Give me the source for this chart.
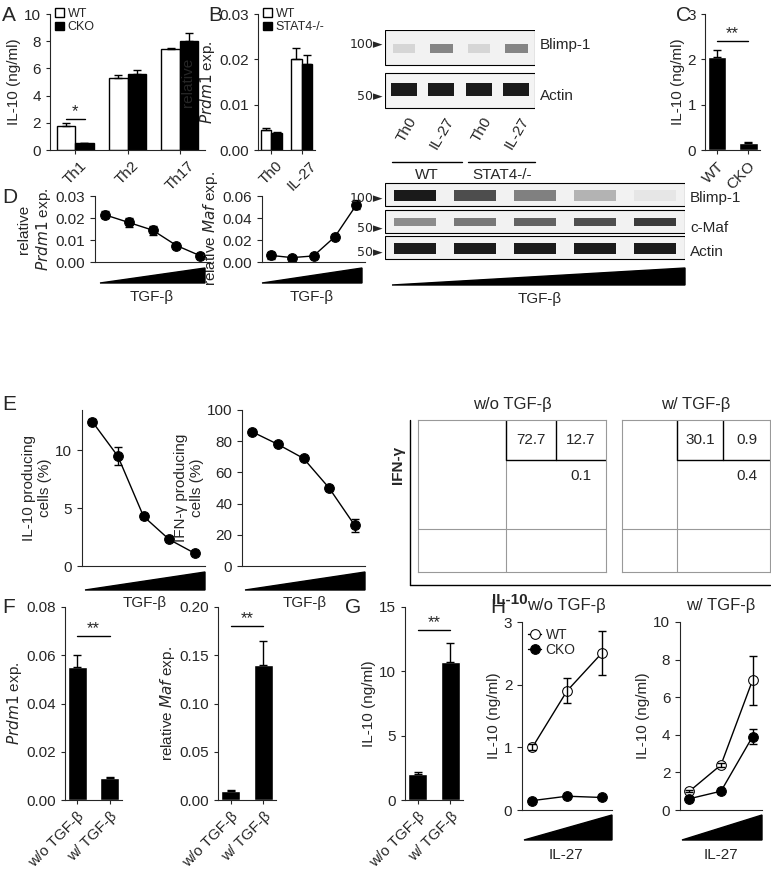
import numpy as np, pandas as pd, seaborn as sns, matplotlib
matplotlib.use("Agg")
import matplotlib.pyplot as plt
from matplotlib.patches import Rectangle, Polygon

sns.set_style("ticks")
plt.rcParams.update({"font.family": "Liberation Sans", "font.size": 11})
W, H = 771, 884
fig = plt.figure(figsize=(W/100, H/100), dpi=100)

def ax_px(x0, y0, x1, y1):
    return fig.add_axes([x0/W, 1-y1/H, (x1-x0)/W, (y1-y0)/H])

# ---- data ----
a_cells = ["Th1", "Th2", "Th17"]
a_wt = [1.8, 5.3, 7.4]; a_cko = [0.5, 5.6, 8.0]
a_wt_err = [0.2, 0.2, 0.1]; a_cko_err = [0.05, 0.3, 0.6]
b_cond = ["Th0", "IL-27"]
b_wt = [0.0045, 0.020]; b_stat = [0.0037, 0.019]
b_wt_err = [0.0004, 0.0025]; b_stat_err = [0.0003, 0.002]
c_grp = ["WT", "CKO"]; c_val = [2.05, 0.15]; c_err = [0.15, 0.03]
d_prdm1 = [0.0215, 0.018, 0.0145, 0.0075, 0.0028]; d_prdm1_err = [0.0015, 0.002, 0.002, 0.0006, 0.0002]
d_maf = [0.006, 0.004, 0.0055, 0.023, 0.052]; d_maf_err = [0.003, 0.0005, 0.001, 0.001, 0.004]
e_il10 = [12.5, 9.5, 4.3, 2.3, 1.1]; e_il10_err = [0.2, 0.8, 0.2, 0.1, 0.1]
e_ifng = [86, 78, 69, 50, 26]; e_ifng_err = [1, 1, 1, 1, 4]
flow_labels = ["w/o TGF-β", "w/ TGF-β"]
flow_q = [("72.7", "12.7", "0.1"), ("30.1", "0.9", "0.4")]
f_grp = ["w/o TGF-β", "w/ TGF-β"]
f_prdm1 = [0.055, 0.009]; f_prdm1_err = [0.005, 0.0005]
f_maf = [0.009, 0.14]; f_maf_err = [0.001, 0.025]
g_val = [2.0, 10.7]; g_err = [0.2, 1.5]
h_wo_wt = [1.0, 1.9, 2.5]; h_wo_cko = [0.15, 0.22, 0.2]
h_wo_wt_err = [0.05, 0.2, 0.35]; h_wo_cko_err = [0.02, 0.02, 0.02]
h_w_wt = [1.0, 2.4, 6.9]; h_w_cko = [0.6, 1.0, 3.9]
h_w_wt_err = [0.05, 0.1, 1.3]; h_w_cko_err = [0.05, 0.05, 0.4]

def style(ax):
    sns.despine(ax=ax)
    ax.tick_params(labelsize=11, length=3)

def grouped(ax, cats, v1, v2, e1, e2, n1, n2, ylim, yticks, fmt):
    df = pd.DataFrame({"c": cats*2, "v": v1+v2, "g": [n1]*len(cats)+[n2]*len(cats)})
    sns.barplot(data=df, x="c", y="v", hue="g", palette=["white", "black"], edgecolor="black",
                linewidth=1, errorbar=None, ax=ax, width=0.7)
    for p, v, e in zip(ax.patches, v1+v2, e1+e2):
        ax.errorbar(p.get_x()+p.get_width()/2, v, yerr=[[0], [e]], color="black", capsize=3, lw=1)
    ax.set_ylim(*ylim); ax.set_yticks(yticks); ax.set_yticklabels([fmt.format(t) for t in yticks])
    ax.set_xlabel("")
    ax.legend(loc="upper left", bbox_to_anchor=(0.0, 1.08), frameon=False, fontsize=9,
              handlelength=0.7, labelspacing=0.1, borderaxespad=0, handletextpad=0.3)
    style(ax)

def single(ax, cats, v, e, ylim, yticks, fmt, rot=0):
    df = pd.DataFrame({"c": cats, "v": v})
    sns.barplot(data=df, x="c", y="v", color="black", errorbar=None, ax=ax, width=0.6)
    for p, vv, ee in zip(ax.patches, v, e):
        ax.errorbar(p.get_x()+p.get_width()/2, vv, yerr=[[0], [ee]], color="black", capsize=3, lw=1)
    ax.set_ylim(*ylim); ax.set_yticks(yticks); ax.set_yticklabels([fmt.format(t) for t in yticks])
    ax.set_xlabel("")
    ax.tick_params(axis="x", rotation=rot)
    for t in ax.get_xticklabels():
        t.set_ha("right"); t.set_rotation_mode("anchor")
    style(ax)

def sig(ax, x0, x1, y, txt):
    ax.plot([x0, x1], [y, y], color="black", lw=1)
    ax.text((x0+x1)/2, y, txt, ha="center", va="bottom", fontsize=12)

def tri(fx0, fy0, fx1, fy1):
    fig.patches.append(Polygon([(fx0/W, 1-fy1/H), (fx1/W, 1-fy0/H), (fx1/W, 1-fy1/H)],
                               closed=True, color="black", transform=fig.transFigure))

def line(ax, vals, errs, ylim, yticks, fmt, mfc="black", label=None):
    df = pd.DataFrame({"x": range(len(vals)), "y": vals})
    sns.lineplot(data=df, x="x", y="y", marker="o", color="black", markerfacecolor=mfc,
                 markeredgecolor="black", markersize=7, ax=ax, label=label, lw=1)
    ax.errorbar(range(len(vals)), vals, yerr=errs, fmt="none", ecolor="black", capsize=3, lw=1)
    ax.set_ylim(*ylim); ax.set_yticks(yticks); ax.set_yticklabels([fmt.format(t) for t in yticks])
    ax.set_xticks([]); ax.set_xlabel(""); ax.set_xlim(-0.4, len(vals)-0.6)
    sns.despine(ax=ax); ax.tick_params(labelsize=11)

def letter(x, y, s):
    fig.text(x/W, 1-y/H, s, fontsize=15, va="top", ha="left")

def marker_txt(x, y, s):
    fig.text(x/W, 1-y/H, s + "►", va="center", ha="right", fontsize=9, family="DejaVu Sans")

# A
ax = ax_px(50, 14, 205, 150)
grouped(ax, a_cells, a_wt, a_cko, a_wt_err, a_cko_err, "WT", "CKO", (0, 10), [0, 2, 4, 6, 8, 10], "{:g}")
ax.set_ylabel("IL-10 (ng/ml)", labelpad=2)
ax.tick_params(axis="x", rotation=45)
sig(ax, -0.18, 0.18, 2.3, "*")
letter(2, 6, "A")
# B
ax = ax_px(258, 14, 315, 150)
grouped(ax, b_cond, b_wt, b_stat, b_wt_err, b_stat_err, "WT", "STAT4-/-", (0, 0.03), [0, 0.01, 0.02, 0.03], "{:.2f}")
ax.set_ylabel("relative\n$Prdm1$ exp.", labelpad=2)
ax.tick_params(axis="x", rotation=45)
letter(208, 6, "B")
# B blot
bx = ax_px(385, 30, 535, 112); bx.set_xlim(0, 4); bx.set_ylim(0, 2); bx.axis("off")
bx.add_patch(Rectangle((0, 1.15), 4, 0.85, fc="#f2f2f2", ec="black", lw=0.8))
bx.add_patch(Rectangle((0, 0.1), 4, 0.85, fc="#f4f4f4", ec="black", lw=0.8))
for i, inten in enumerate([0.2, 0.6, 0.2, 0.6]):
    bx.add_patch(Rectangle((i+0.2, 1.45), 0.6, 0.2, fc=str(1-inten*0.8), ec="none"))
    bx.add_patch(Rectangle((i+0.15, 0.4), 0.7, 0.3, fc="0.1", ec="none"))
fig.text(540/W, 1-45/H, "Blimp-1", va="center"); fig.text(540/W, 1-96/H, "Actin", va="center")
marker_txt(383, 45, "100"); marker_txt(383, 96, "50")
for i, s in enumerate(["Th0", "IL-27", "Th0", "IL-27"]):
    fig.text((385+22+i*37.5)/W, 1-115/H, s, rotation=60, ha="right", va="top", rotation_mode="anchor")
fig.add_artist(plt.Line2D([392/W, 462/W], [1-162/H]*2, color="black", lw=1))
fig.add_artist(plt.Line2D([468/W, 535/W], [1-162/H]*2, color="black", lw=1))
fig.text(427/W, 1-168/H, "WT", ha="center", va="top")
fig.text(502/W, 1-168/H, "STAT4-/-", ha="center", va="top")
# C
ax = ax_px(705, 14, 760, 150)
single(ax, c_grp, c_val, c_err, (0, 3), [0, 1, 2, 3], "{:g}", rot=45)
ax.set_ylabel("IL-10 (ng/ml)", labelpad=2)
sig(ax, 0, 1, 2.4, "**")
letter(676, 6, "C")
# D
ax = ax_px(95, 196, 210, 262)
line(ax, d_prdm1, d_prdm1_err, (0, 0.03), [0, 0.01, 0.02, 0.03], "{:.2f}")
ax.set_ylabel("relative\n$Prdm1$ exp.", labelpad=2)
tri(100, 268, 205, 283); fig.text(152/W, 1-290/H, "TGF-β", ha="center", va="top")
letter(2, 188, "D")
ax = ax_px(262, 196, 365, 262)
line(ax, d_maf, d_maf_err, (0, 0.06), [0, 0.02, 0.04, 0.06], "{:.2f}")
ax.set_ylabel("relative $Maf$ exp.", labelpad=2)
tri(262, 268, 362, 283); fig.text(312/W, 1-290/H, "TGF-β", ha="center", va="top")
# D blot
bx = ax_px(385, 180, 685, 262); bx.set_xlim(0, 5); bx.set_ylim(0, 3); bx.axis("off")
for col in [2.05, 1.05, 0.1]:
    bx.add_patch(Rectangle((0, col), 5, 0.85, fc="#f2f2f2", ec="black", lw=0.8))
for i in range(5):
    bx.add_patch(Rectangle((i+0.15, 2.25), 0.7, 0.4, fc=str(min(0.95, 0.1+i*0.2)), ec="none"))
    bx.add_patch(Rectangle((i+0.15, 1.3), 0.7, 0.3, fc=str(0.55-i*0.08), ec="none"))
    bx.add_patch(Rectangle((i+0.15, 0.3), 0.7, 0.4, fc="0.1", ec="none"))
for y, s in [(198, "Blimp-1"), (228, "c-Maf"), (252, "Actin")]:
    fig.text(690/W, 1-y/H, s, va="center")
for y, s in [(198, "100"), (228, "50"), (252, "50")]:
    marker_txt(383, y, s)
tri(392, 268, 685, 285); fig.text(540/W, 1-292/H, "TGF-β", ha="center", va="top")
# E
ax = ax_px(82, 410, 205, 566)
line(ax, e_il10, e_il10_err, (0, 13.5), [0, 5, 10], "{:g}")
ax.set_ylabel("IL-10 producing\ncells (%)", labelpad=2)
tri(85, 572, 205, 590); fig.text(145/W, 1-596/H, "TGF-β", ha="center", va="top")
letter(2, 395, "E")
ax = ax_px(242, 410, 365, 566)
line(ax, e_ifng, e_ifng_err, (0, 100), [0, 20, 40, 60, 80, 100], "{:g}")
ax.set_ylabel("IFN-γ producing\ncells (%)", labelpad=2)
tri(245, 572, 365, 590); fig.text(305/W, 1-596/H, "TGF-β", ha="center", va="top")
# flow plots
for k, (x0, x1, vx) in enumerate([(418, 606, 0.47), (622, 770, 0.37)]):
    fx = ax_px(x0, 420, x1, 572); fx.set_xlim(0, 1); fx.set_ylim(0, 1)
    fx.set_xticks([]); fx.set_yticks([])
    for s in fx.spines.values(): s.set_color("0.6")
    fx.axvline(vx, color="0.6", lw=0.8)
    fx.axhline(0.28, color="0.6", lw=0.8)
    fx.plot([vx, vx, 1], [1, 0.74, 0.74], color="black", lw=1)
    fx.plot([vx+(1-vx)/2]*2, [1, 0.74], color="black", lw=1)
    q = flow_q[k]
    fx.text(vx+(1-vx)/4, 0.87, q[0], ha="center", va="center")
    fx.text(vx+3*(1-vx)/4, 0.87, q[1], ha="center", va="center")
    fx.text(vx+3*(1-vx)/4, 0.63, q[2], ha="center", va="center")
    fig.text((x0+x1)/2/W, 1-412/H, flow_labels[k], ha="center", va="bottom", fontsize=12)
fig.add_artist(plt.Line2D([410/W, 410/W], [1-420/H, 1-585/H], color="black", lw=1))
fig.add_artist(plt.Line2D([410/W, 770/W], [1-585/H]*2, color="black", lw=1))
fig.text(398/W, 1-465/H, "IFN-γ", rotation=90, ha="center", va="center", fontweight="bold")
fig.text(510/W, 1-600/H, "IL-10", ha="center", va="center", fontweight="bold")
# F
ax = ax_px(65, 607, 122, 800)
single(ax, f_grp, f_prdm1, f_prdm1_err, (0, 0.08), [0, 0.02, 0.04, 0.06, 0.08], "{:.2f}", rot=45)
ax.set_ylabel("relative\n$Prdm1$ exp.", labelpad=2)
sig(ax, 0, 1, 0.068, "**")
letter(2, 598, "F")
ax = ax_px(218, 607, 276, 800)
single(ax, f_grp, f_maf, f_maf_err, (0, 0.2), [0, 0.05, 0.10, 0.15, 0.20], "{:.2f}", rot=45)
ax.set_ylabel("relative $Maf$ exp.", labelpad=2)
sig(ax, 0, 1, 0.18, "**")
# G
ax = ax_px(405, 607, 463, 800)
single(ax, f_grp, g_val, g_err, (0, 15), [0, 5, 10, 15], "{:g}", rot=45)
ax.set_ylabel("IL-10 (ng/ml)", labelpad=2)
sig(ax, 0, 1, 13.2, "**")
letter(345, 598, "G")
# H
ax = ax_px(522, 622, 612, 810)
line(ax, h_wo_wt, h_wo_wt_err, (0, 3), [0, 1, 2, 3], "{:g}", mfc="white", label="WT")
line(ax, h_wo_cko, h_wo_cko_err, (0, 3), [0, 1, 2, 3], "{:g}", label="CKO")
ax.set_xlim(-0.3, 2.3)
ax.set_ylabel("IL-10 (ng/ml)", labelpad=2)
ax.legend(loc="upper left", frameon=False, fontsize=10, handlelength=1, borderaxespad=0,
          labelspacing=0.1, handletextpad=0.3)
tri(524, 815, 612, 840); fig.text(566/W, 1-848/H, "IL-27", ha="center", va="top")
fig.text(566/W, 1-610/H, "w/o TGF-β", ha="center", fontsize=12)
letter(490, 598, "H")
ax = ax_px(680, 622, 762, 810)
line(ax, h_w_wt, h_w_wt_err, (0, 10), [0, 2, 4, 6, 8, 10], "{:g}", mfc="white")
line(ax, h_w_cko, h_w_cko_err, (0, 10), [0, 2, 4, 6, 8, 10], "{:g}")
ax.set_xlim(-0.3, 2.3)
ax.set_ylabel("IL-10 (ng/ml)", labelpad=2)
tri(682, 815, 762, 840); fig.text(721/W, 1-848/H, "IL-27", ha="center", va="top")
fig.text(721/W, 1-610/H, "w/ TGF-β", ha="center", fontsize=12)

fig.savefig("out.png", dpi=100)
